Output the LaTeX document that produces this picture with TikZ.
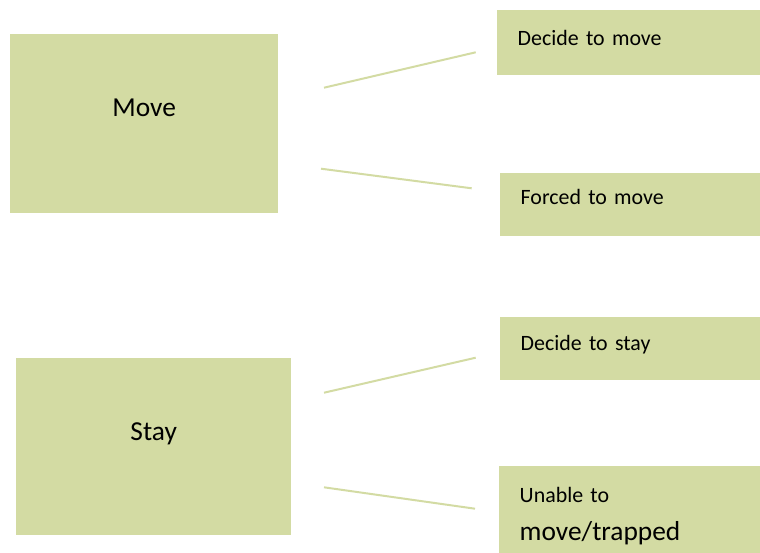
\documentclass[tikz,border=0pt]{standalone}
\usepackage{fontspec}
\setmainfont{Carlito}
\usetikzlibrary{positioning}
\definecolor{boxgreen}{HTML}{D3DBA3}
\newcommand{\boxbigfont}{\fontsize{27.4}{37.5}\selectfont}
\tikzset{
  bigbox/.style={rectangle, fill=boxgreen, anchor=north west, inner sep=0pt},
  smallbox/.style={rectangle, fill=boxgreen, anchor=north west, inner xsep=20.5pt, inner ysep=0pt, align=left, font=\fontsize{21.9}{37.5}\selectfont},
  link/.style={draw=boxgreen, line width=2pt}
}
\begin{document}
\begin{tikzpicture}[x=1pt, y=-1pt]
\useasboundingbox (0,0) rectangle (760,552);
\node[bigbox, minimum width=268pt, minimum height=179pt, label={[name=movetext, yshift=15.7pt, font=\boxbigfont]center:Move}] (move) at (10,34) {};
\node[bigbox, minimum width=275pt, minimum height=177pt, label={[name=staytext, yshift=12.6pt, font=\boxbigfont]center:Stay}] (stay) at (16,358) {};
\node[smallbox, text width=222pt, text height=35.7pt, text depth=29pt] (decmove) at (497,10) {Decide to move};
\node[smallbox, text width=219pt, text height=31.6pt, text depth=31pt] (forced) at (500,172.7) {Forced to move};
\node[smallbox, text width=219pt, text height=33pt, text depth=29.7pt] (decstay) at (500,317) {Decide to stay};
\node[smallbox, text width=220pt, text height=36.7pt, text depth=50pt] (unable) at (499,466) {Unable to\\{\boxbigfont move/trapped}};
\coordinate (move-a) at (324,87.7);
\coordinate (move-b) at (321,168.7);
\coordinate (stay-a) at (324,392.7);
\coordinate (stay-b) at (324,487.3);
\coordinate (decmove-in) at (475.7,52.3);
\coordinate (forced-in) at (471.7,188.3);
\coordinate (decstay-in) at (475.7,357.7);
\coordinate (unable-in) at (475,508.7);
\draw[link] (move-a) -- (decmove-in);
\draw[link] (move-b) -- (forced-in);
\draw[link] (stay-a) -- (decstay-in);
\draw[link] (stay-b) -- (unable-in);
\end{tikzpicture}
\end{document}
